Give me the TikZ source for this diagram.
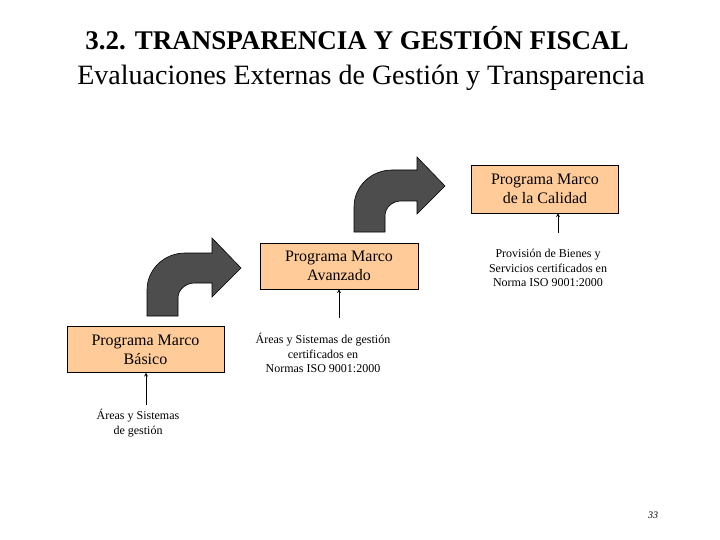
\documentclass[tikz,border=0pt]{standalone}
\usepackage{fontspec}
\setmainfont{Liberation Serif}
\definecolor{peach}{RGB}{255,204,153}
\definecolor{darrow}{RGB}{77,77,77}
\begin{document}
\begin{tikzpicture}[x=1pt,y=-1pt,
  box/.style={draw=black,fill=peach,minimum width=#1,minimum height=46pt,inner sep=0pt,align=center,font=\fontsize{16}{19}\selectfont},
  note/.style={align=center,font=\fontsize{12}{14.5}\selectfont,inner sep=0pt},
  bent/.style={fill=darrow,draw=black,line width=0.6pt},
  up/.style={-stealth,line width=0.7pt}]
\useasboundingbox (0,0) rectangle (720,540);
\node[font=\bfseries\fontsize{27}{30}\selectfont] (title) at (357,38) {3.2. TRANSPARENCIA Y GESTIÓN FISCAL};
\node[font=\fontsize{28}{32}\selectfont] (sub) at (361,78) {Evaluaciones Externas de Gestión y Transparencia};
\node[box=157pt] (bas) at (145.5,349.5) {Programa Marco\\Básico};
\node[box=158pt] (ava) at (339,266) {Programa Marco\\Avanzado};
\node[box=147pt,minimum height=48pt] (cal) at (545,189) {Programa Marco\\de la Calidad};
\node[note] (n1) at (138,423) {Áreas y Sistemas\\de gestión};
\node[note] (n2) at (323,353) {Áreas y Sistemas de gestión\\certificados en\\Normas ISO 9001:2000};
\node[note] (n3) at (548,268) {Provisión de Bienes y\\Servicios certificados en\\Norma ISO 9001:2000};
\coordinate (c1) at (146,405);
\coordinate (c2) at (339,318);
\coordinate (c3) at (558,233);
\draw[up] (c1) -- (c1 |- bas.south);
\draw[up] (c2) -- (c2 |- ava.south);
\draw[up] (c3) -- (c3 |- cal.south);
\draw[bent] (147,316) -- (147,290) to[out=90,in=180] (185,253) -- (212,253) -- (212,238) -- (241,268) -- (212,297) -- (212,283) -- (195,283) to[out=180,in=90] (178,298) -- (178,316) -- cycle;
\draw[bent] (354,232) -- (354,207) to[out=90,in=180] (392,170) -- (417,170) -- (417,157) -- (445,186) -- (417,214) -- (417,201) -- (401,201) to[out=180,in=90] (385,216) -- (385,232) -- cycle;
\node[font=\itshape\fontsize{10}{12}\selectfont] (pg) at (653,515) {33};
\end{tikzpicture}
\end{document}
